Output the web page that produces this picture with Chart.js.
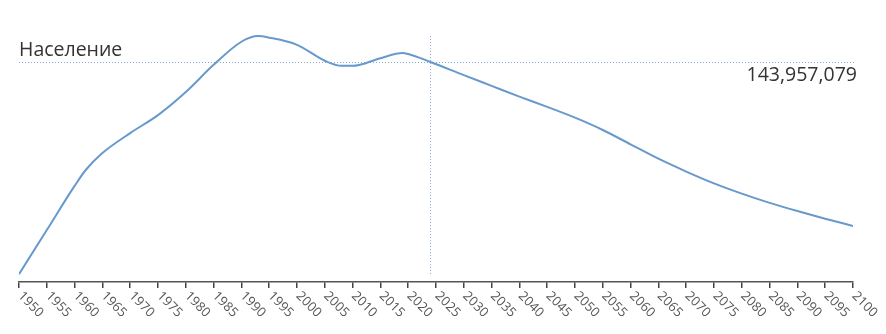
<!DOCTYPE html>
<html>
<head>
<meta charset="utf-8">
<script src="https://cdn.jsdelivr.net/npm/chart.js@4"></script>
<style>
    body { margin: 0; background: #fff; }
    canvas { display: block; }
</style>
</head>
<body>
<canvas id="chartPopulation" width="886" height="334"></canvas>
<script>
// population of Russia, estimates + projection (millions)
const years = [1950, 1955, 1960, 1962, 1965, 1970, 1975, 1980, 1985, 1990, 1993, 1995, 2000, 2005, 2008, 2010, 2015, 2019, 2020,
    2024, 2030, 2035, 2040, 2045, 2050, 2055, 2060, 2065, 2070, 2075, 2080, 2085, 2090, 2095, 2100];
const population = [102.6, 111.2, 119.8, 122.9, 126.2, 130.1, 133.6, 138.1, 143.4, 147.9, 149.0, 148.7, 147.3, 144.2, 143.2, 143.2, 144.7, 145.7, 145.5,
    143.957079, 141.4, 139.3, 137.2, 135.2, 133.1, 130.7, 127.9, 125.1, 122.6, 120.3, 118.3, 116.5, 114.9, 113.4, 112.0];
const tickYears = [];
for (let y = 1950; y <= 2100; y += 5) tickYears.push(y);

const currentYear = 2024;
const currentValue = 143957079;
const titleText = 'Население';

const points = years.map((y, i) => ({x: y, y: population[i] * 1e6}));

const lineColor = 'rgb(104,153,204)';
const dotColor = 'rgba(110,155,205,0.85)';

// draws the marker lines, the title and the slanted year labels
const markerPlugin = {
    id: 'marker',
    afterDraw(chart) {
        const ctx = chart.ctx;
        const xs = chart.scales.x;
        const ys = chart.scales.y;
        const area = chart.chartArea;
        const cx = xs.getPixelForValue(currentYear);
        const cy = ys.getPixelForValue(currentValue);
        const vals = points.map(p => p.y);

        ctx.save();
        ctx.strokeStyle = dotColor;
        ctx.lineWidth = 1;
        ctx.setLineDash([1, 2]);
        ctx.beginPath();
        ctx.moveTo(area.left, Math.round(cy) + 0.5);
        ctx.lineTo(area.right + 2, Math.round(cy) + 0.5);
        ctx.moveTo(Math.round(cx) + 0.5, ys.getPixelForValue(Math.max(...vals)));
        ctx.lineTo(Math.round(cx) + 0.5, ys.getPixelForValue(Math.min(...vals)));
        ctx.stroke();
        ctx.setLineDash([]);

        ctx.fillStyle = '#333';
        ctx.font = '19.5px "Open Sans"';
        ctx.textBaseline = 'alphabetic';
        ctx.textAlign = 'left';
        ctx.fillText(titleText, area.left, cy - 6);
        ctx.textAlign = 'right';
        ctx.fillText(currentValue.toLocaleString('en-US'), area.right + 4, cy + 19);

        ctx.fillStyle = '#555';
        ctx.font = '13px "Open Sans"';
        ctx.textAlign = 'left';
        ctx.textBaseline = 'middle';
        tickYears.forEach(y => {
            const x = xs.getPixelForValue(y);
            ctx.save();
            ctx.translate(x + 1, area.bottom + 12);
            ctx.rotate(Math.PI / 4);
            ctx.fillText(String(y), 0, 0);
            ctx.restore();
        });
        ctx.restore();
    }
};

const configPopulation = {
    type: 'line',
    data: {
        datasets: [{
            data: points,
            borderColor: lineColor,
            borderWidth: 2,
            pointRadius: 0,
            fill: false,
            cubicInterpolationMode: 'monotone',
        }]
    },
    options: {
        responsive: false,
        animation: false,
        layout: {
            padding: {left: 19, right: 33, top: 20, bottom: 46}
        },
        scales: {
            x: {
                type: 'linear',
                min: 1950,
                max: 2100,
                afterBuildTicks: function (axis) {
                    axis.ticks = tickYears.map(v => ({value: v}));
                },
                ticks: {display: false},
                grid: {
                    drawOnChartArea: false,
                    drawTicks: true,
                    tickLength: 6,
                    color: '#444',
                    lineWidth: 1.5,
                },
                border: {color: '#555', width: 1.5}
            },
            y: {
                display: false,
                min: 101.07e6,
                max: 152.14e6,
            }
        },
        plugins: {
            legend: {display: false},
            tooltip: {enabled: false}
        }
    },
    plugins: [markerPlugin]
};

var chartPopulation = new Chart(
    document.getElementById('chartPopulation'),
    configPopulation
);
</script>
</body>
</html>
